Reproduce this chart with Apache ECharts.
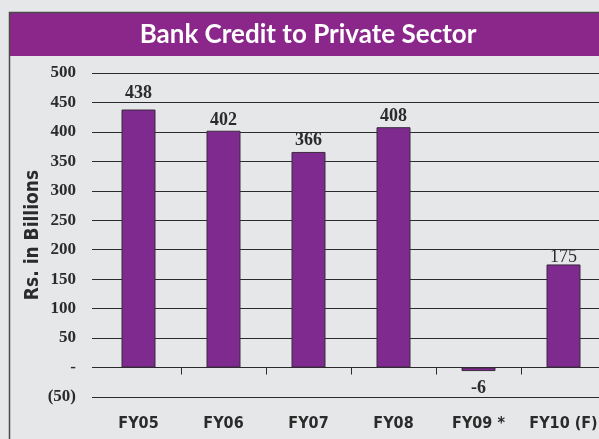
<!DOCTYPE html>
<html>
<head>
<meta charset="utf-8">
<title>Bank Credit to Private Sector</title>
<script src="https://cdn.jsdelivr.net/npm/echarts@6/dist/echarts.min.js"></script>
<style>
  html, body { margin: 0; padding: 0; background: #e6e7e9; }
  #chart { width: 599px; height: 439px; }
</style>
</head>
<body>
<div id="chart"></div>
<script>
// Fiscal years and bank credit to the private sector (Rs. in billions)
const categories = ['FY05', 'FY06', 'FY07', 'FY08', 'FY09 *', 'FY10 (F)'];
const credit = [438, 402, 366, 408, -6, 175];

// Value axis range and step
const axisMin = -50;
const axisMax = 500;
const axisStep = 50;

// Per-bar gap between bar end and its value label
const labelGap = [7, 1.5, 2.5, 1.5, 8, -2];

const purple = '#8b278b';
const barPurple = '#7e2a8f';
const ink = '#2b2b2b';
const numFont = '"Liberation Serif", "DejaVu Serif", serif';
const sansFont = '"DejaVu Sans Condensed", "Liberation Sans", sans-serif';

function tickText(v) {
  if (v === 0) return '-';
  if (v < 0) return '(' + Math.abs(v) + ')';
  return String(v);
}

const barData = credit.map((v, i) => ({
  value: v,
  label: {
    position: v < 0 ? 'bottom' : 'top',
    distance: labelGap[i],
    fontWeight: i === credit.length - 1 ? 'normal' : 'bold'
  }
}));

const chart = echarts.init(document.getElementById('chart'), null, { renderer: 'canvas' });

chart.setOption({
  backgroundColor: '#e6e7e9',
  animation: false,
  graphic: [
    {
      type: 'rect',
      shape: { x: 9.5, y: 12.5, width: 640, height: 480 },
      style: { fill: 'none', stroke: '#4a4a4a', lineWidth: 1.5 },
      z: 10
    },
    {
      type: 'rect',
      shape: { x: 10, y: 13, width: 640, height: 43 },
      style: { fill: purple },
      z: 5
    },
    {
      type: 'text',
      x: 308,
      y: 35,
      style: {
        text: 'Bank Credit to Private Sector',
        fill: '#ffffff',
        font: 'bold 26px Lato, "Open Sans", sans-serif',
        textAlign: 'center',
        textVerticalAlign: 'middle'
      },
      z: 6
    }
  ],
  grid: [
    // grid carrying the value axis, its labels and gridlines
    { left: 92, right: -7, top: 73, bottom: 42, outerBoundsMode: 'none' },
    // grid carrying the bars and category axes
    { left: 96, right: -7, top: 73, bottom: 42, outerBoundsMode: 'none' }
  ],
  xAxis: [
    {
      gridIndex: 0,
      type: 'value',
      show: false
    },
    {
      // baseline at zero with tick marks between years
      gridIndex: 1,
      type: 'category',
      data: categories,
      boundaryGap: true,
      position: 'bottom',
      axisLine: { show: true, onZero: true, lineStyle: { color: ink, width: 1 } },
      axisTick: {
        show: true,
        length: 7,
        inside: false,
        interval: function (index) { return index > 0; },
        lineStyle: { color: ink, width: 1 }
      },
      axisLabel: { show: false }
    },
    {
      // year labels along the bottom of the plot
      gridIndex: 1,
      type: 'category',
      data: categories,
      boundaryGap: true,
      position: 'bottom',
      axisLine: { show: false, onZero: false },
      axisTick: { show: false },
      axisLabel: {
        margin: 19,
        interval: 0,
        color: ink,
        fontFamily: sansFont,
        fontWeight: 'bold',
        fontSize: 16
      }
    }
  ],
  yAxis: [
    {
      gridIndex: 0,
      type: 'value',
      min: axisMin,
      max: axisMax,
      interval: axisStep,
      name: 'Rs. in Billions',
      nameLocation: 'middle',
      nameGap: 49,
      nameMoveOverlap: false,
      nameRotate: 90,
      nameTextStyle: {
        color: ink,
        fontFamily: sansFont,
        fontWeight: 'bold',
        fontSize: 19
      },
      axisLine: { show: false },
      axisTick: { show: false },
      splitLine: { show: true, lineStyle: { color: ink, width: 1 } },
      axisLabel: {
        margin: 16,
        color: ink,
        fontFamily: numFont,
        fontWeight: 'bold',
        fontSize: 17,
        formatter: tickText
      }
    },
    {
      gridIndex: 1,
      type: 'value',
      min: axisMin,
      max: axisMax,
      interval: axisStep,
      show: false,
      splitLine: { show: false }
    }
  ],
  series: [
    {
      type: 'bar',
      xAxisIndex: 1,
      yAxisIndex: 1,
      data: barData,
      barWidth: 34,
      itemStyle: {
        color: barPurple,
        borderColor: '#3b2a3f',
        borderWidth: 1
      },
      label: {
        show: true,
        color: ink,
        fontFamily: numFont,
        fontSize: 18,
        formatter: function (p) { return String(p.value); }
      },
      z: 3
    }
  ]
});
</script>
</body>
</html>
